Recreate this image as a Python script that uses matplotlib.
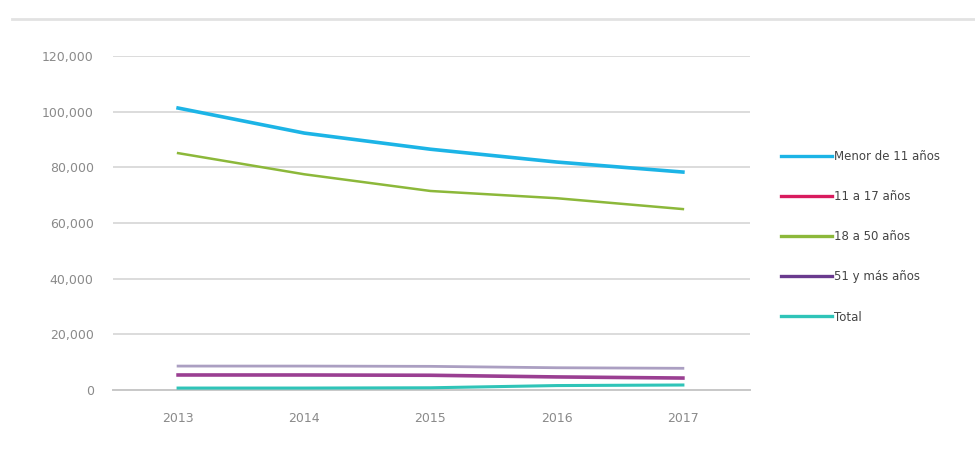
import matplotlib.pyplot as plt
from matplotlib.lines import Line2D

# datos
anios = ['2013', '2014', '2015', '2016', '2017']
menor_11 = [101300, 92300, 86500, 81900, 78300]
de_11_17 = [5400, 5400, 5300, 4700, 4300]
de_18_50 = [85100, 77500, 71500, 68900, 65000]
de_51_mas = [8600, 8600, 8500, 8000, 7800]
total = [700, 700, 800, 1600, 1800]

etiquetas = ['Menor de 11 años', '11 a 17 años', '18 a 50 años', '51 y más años', 'Total']
colores = ['#1cb4e6', '#d81b5e', '#8cb83a', '#6a3a8e', '#2fc4b8']
yticks = [0, 20000, 40000, 60000, 80000, 100000, 120000]

plt.rcParams['font.family'] = ['DejaVu Sans']

fig = plt.figure(figsize=(9.75, 4.5), dpi=100)
ax = fig.add_axes([0.116, 0.1333, 0.653, 0.7423])

x = list(range(len(anios)))
ax.plot(x, total, color='#2fc4b8', lw=2.2, zorder=3)
ax.plot(x, de_51_mas, color='#ab9fc2', lw=2.0, zorder=3)
ax.plot(x, de_11_17, color='#9a3f92', lw=2.6, zorder=3)
ax.plot(x, de_18_50, color='#8cb83a', lw=1.8, zorder=3)
ax.plot(x, menor_11, color='#1cb4e6', lw=2.6, zorder=3)

ax.set_xlim(-0.515, 4.53)
ax.set_ylim(0, 120000)
ax.set_yticks(yticks)
ax.set_yticklabels(['{:,}'.format(v) for v in yticks])
ax.set_xticks(x)
ax.set_xticklabels(anios)
ax.tick_params(axis='both', length=0, colors='#8a8a8a', labelsize=9)
ax.tick_params(axis='y', pad=14)
ax.tick_params(axis='x', pad=16)
ax.grid(axis='y', color='#dcdcdc', lw=1.4)
ax.set_axisbelow(True)
for s in ['top', 'right', 'left']:
    ax.spines[s].set_visible(False)
ax.spines['bottom'].set_color('#c8c8c8')
ax.spines['bottom'].set_linewidth(1.4)

# leyenda
handles = [Line2D([0], [0], color=c, lw=2.4) for c in colores]
fig.legend(handles, etiquetas, loc='upper left', bbox_to_anchor=(0.795, 0.68),
           frameon=False, fontsize=8.5, labelcolor='#444444',
           handlelength=4.3, handletextpad=0.15, labelspacing=2.3, borderpad=0)

# linea superior
fig.add_artist(Line2D([0.012, 1.0], [0.958, 0.958], color='#e2e2e2', lw=2))

fig.savefig('out.png', dpi=100, facecolor='white')
